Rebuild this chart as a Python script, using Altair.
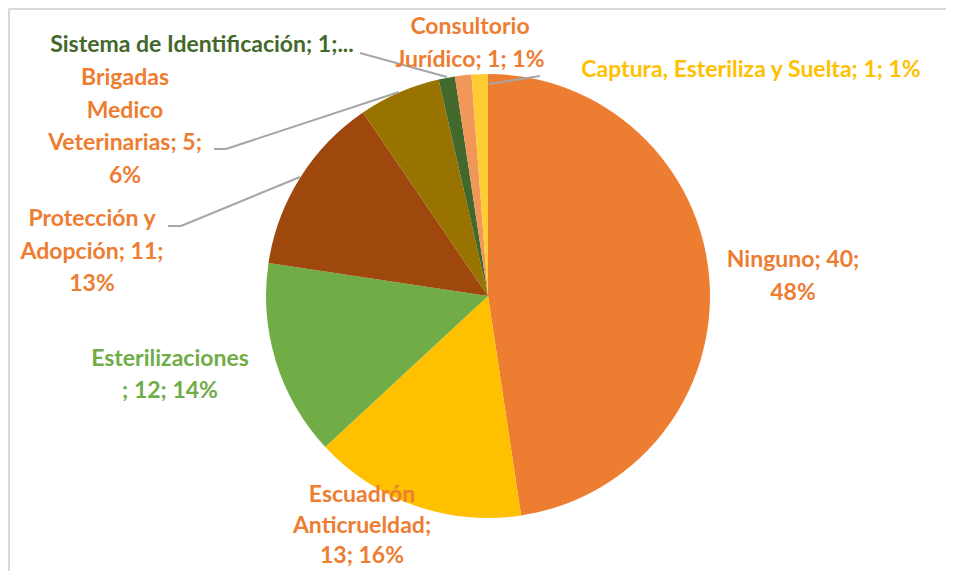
import altair as alt
import pandas as pd

# ---- data ----
categories = ["Ninguno", "Escuadrón Anticrueldad", "Esterilizaciones",
              "Protección y Adopción", "Brigadas Medico Veterinarias",
              "Sistema de Identificación", "Consultorio Jurídico",
              "Captura, Esteriliza y Suelta"]
values = [40, 13, 12, 11, 5, 1, 1, 1]
slice_colors = ["#ED7D31", "#FFC000", "#70AD47", "#9E480E", "#997300",
                "#43682B", "#F1975A", "#FFCD33"]

label_lines = [
    ["Ninguno; 40;", "48%"],
    ["Escuadrón", "Anticrueldad;", "13; 16%"],
    ["Esterilizaciones", "; 12; 14%"],
    ["Protección y", "Adopción; 11;", "13%"],
    ["Brigadas", "Medico", "Veterinarias; 5;", "6%"],
    ["Sistema de Identificación; 1;..."],
    ["Consultorio", "Jurídico; 1; 1%"],
    ["Captura,  Esteriliza y Suelta; 1; 1%"],
]
label_colors = ["#ED7D31", "#ED7D31", "#70AD47", "#ED7D31", "#ED7D31",
                "#43682B", "#ED7D31", "#FFC000"]

# ---- layout (page pixel coords; chart origin is at 8,8) ----
OFF = 8
W, H = 938, 563
pie_cx, pie_cy, pie_r = 488, 296, 222
label_x = [793, 362, 170, 92, 125, 202, 470, 751]
label_y0 = [260, 495, 359, 219, 78, 45, 27, 70]
line_steps = [33, 30.5, 32, 32.5, 32.5, 32, 33, 32]
leaders = [  # x, y, x2, y2
    (168, 226, 181, 226), (181, 226, 300, 177),
    (214, 149, 226, 149), (226, 149, 399, 92),
    (360, 53, 447, 77),
    (540, 76, 489, 84),
]

pie_df = pd.DataFrame({"category": categories, "value": values,
                       "idx": list(range(len(values)))})

rows = []
for i, lines in enumerate(label_lines):
    for j, t in enumerate(lines):
        rows.append({"text": t, "category": categories[i],
                     "px": label_x[i] - OFF,
                     "py": label_y0[i] + j * line_steps[i] - OFF})
text_df = pd.DataFrame(rows)

lead_df = pd.DataFrame([{"x": a - OFF, "y": b - OFF, "x2": c - OFF, "y2": d - OFF}
                        for a, b, c, d in leaders])

pie = alt.Chart(pie_df).mark_arc(radius=pie_r, stroke=None).encode(
    theta=alt.Theta("value:Q", stack=True),
    order=alt.Order("idx:Q"),
    color=alt.Color("category:N", scale=alt.Scale(domain=categories, range=slice_colors),
                    legend=None),
    x=alt.value(pie_cx - OFF),
    y=alt.value(pie_cy - OFF),
)

leader_lines = alt.Chart(lead_df).mark_rule(color="#A6A6A6", strokeWidth=2).encode(
    x=alt.X("x:Q", scale=None), y=alt.Y("y:Q", scale=None),
    x2="x2:Q", y2="y2:Q",
)

labels = alt.Chart(text_df).mark_text(
    font="Lato", fontWeight="bold", fontSize=23, align="center", baseline="middle"
).encode(
    x=alt.X("px:Q", scale=None), y=alt.Y("py:Q", scale=None),
    text="text:N",
    color=alt.Color("category:N", scale=alt.Scale(domain=categories, range=label_colors),
                    legend=None),
)

border = alt.Chart(pd.DataFrame({"k": [0]})).mark_rule(color="#D9D9D9", strokeWidth=2).encode(
    x=alt.value(1), x2=alt.value(W), y=alt.value(1), y2=alt.value(1))
border_left = alt.Chart(pd.DataFrame({"k": [0]})).mark_rule(color="#D9D9D9", strokeWidth=2).encode(
    x=alt.value(1), x2=alt.value(1), y=alt.value(1), y2=alt.value(H))

chart = alt.layer(border, border_left, pie, leader_lines, labels).resolve_scale(
    color="independent"
).properties(
    width=W, height=H, padding=0, autosize=alt.AutoSizeParams(type="none")
).configure_view(stroke=None).configure(background="white")

chart.save("out.html", embed_options={"renderer": "svg", "actions": False})
